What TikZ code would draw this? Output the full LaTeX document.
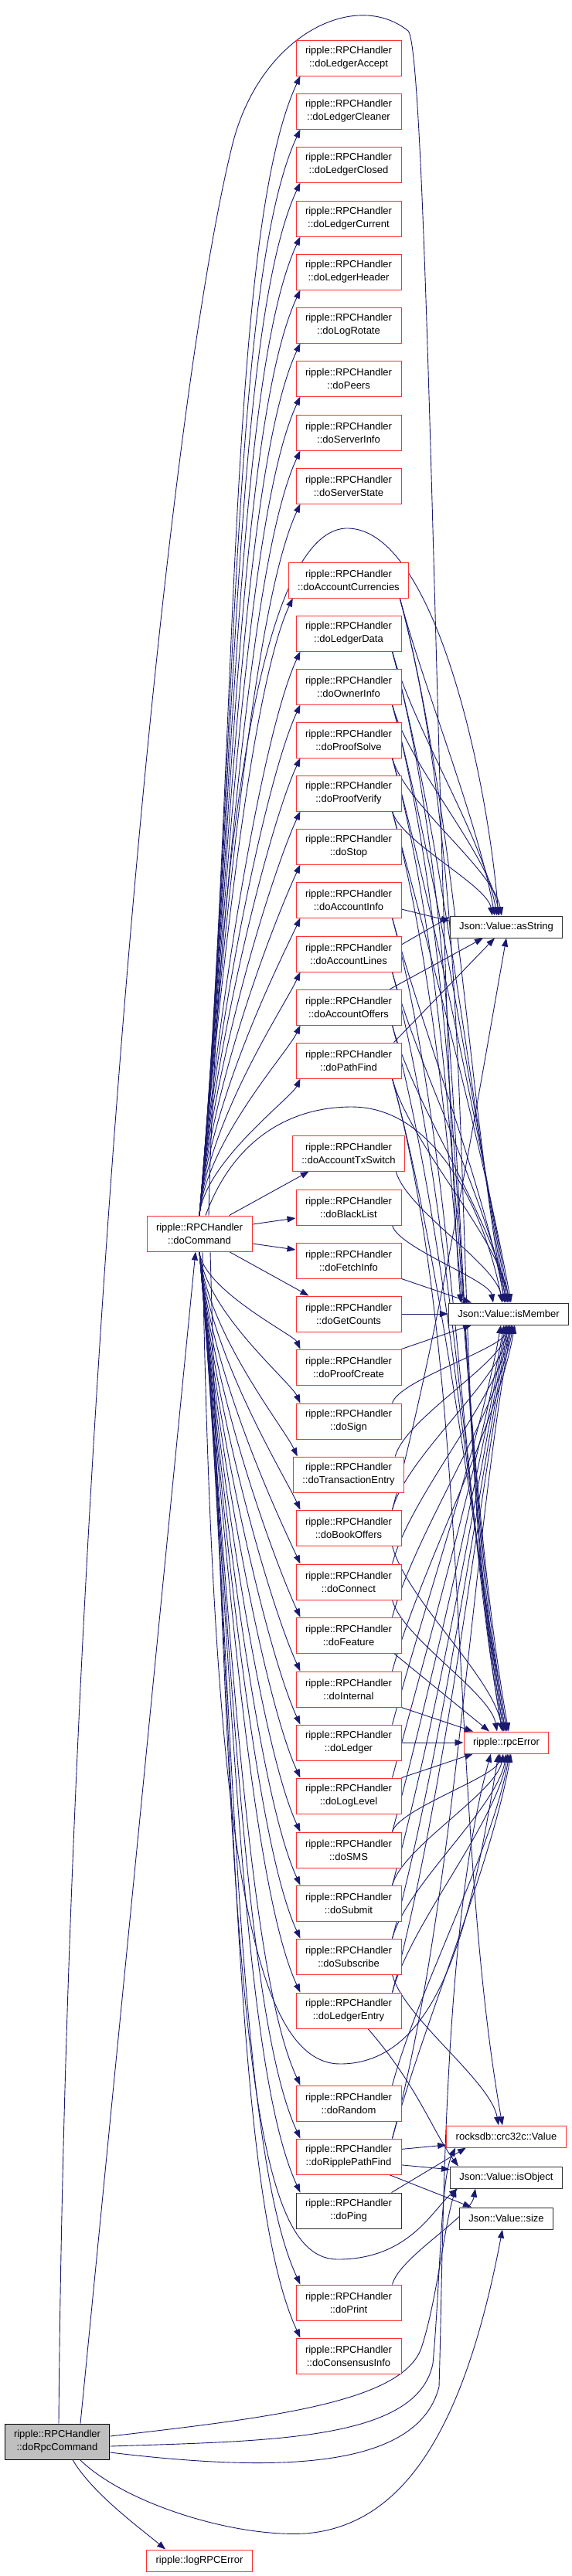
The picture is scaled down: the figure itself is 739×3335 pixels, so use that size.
\documentclass[tikz,border=0pt]{standalone}
\usepackage{fontspec}
\setmainfont{Liberation Sans}
\usetikzlibrary{arrows.meta,backgrounds,calc}
\definecolor{edgeblue}{RGB}{25,25,112}
\definecolor{fnred}{RGB}{255,48,48}
\definecolor{extgray}{RGB}{48,48,48}
\definecolor{rootgray}{RGB}{191,191,191}
\newcommand{\dotfont}{\fontsize{13}{17}\selectfont}
\tikzset{
  fn/.style={draw=fnred,line width=1pt,fill=white,inner xsep=12pt,inner ysep=2pt,minimum height=46pt,align=center,font=\dotfont},
  ext/.style={fn,draw=extgray,minimum height=28pt},
  rootfn/.style={fn,draw=black,fill=rootgray},
  call/.style={edgeblue,line width=0.9pt,-{Triangle[length=11pt,width=8pt]}}
}

\begin{document}
\begin{tikzpicture}[x=1pt,y=1pt]
  \useasboundingbox (0,0) rectangle (739,-3335);
  % callees of doCommand
  \foreach \f/\y in {LedgerAccept/75,LedgerCleaner/144,LedgerClosed/213,LedgerCurrent/283,LedgerHeader/352,LogRotate/421,Peers/490,ServerInfo/560,ServerState/629,AccountCurrencies/751,LedgerData/820,OwnerInfo/889,ProofSolve/958,ProofVerify/1027,Stop/1096,AccountInfo/1165,AccountLines/1235,AccountOffers/1304,PathFind/1373,AccountTxSwitch/1493,BlackList/1563,FetchInfo/1632,GetCounts/1701,ProofCreate/1770,Sign/1840,TransactionEntry/1909,BookOffers/1978,Connect/2048,Feature/2117,Internal/2187,Ledger/2256,LogLevel/2325,SMS/2395,Submit/2464,Subscribe/2533,LedgerEntry/2603,Random/2723,RipplePathFind/2792,Print/2981,ConsensusInfo/3050}{
    \node[fn] (\f) at (451,-\y) {ripple::RPCHandler\\::do\f};}
  \node[fn,draw=extgray] (Ping) at (451,-2862) {ripple::RPCHandler\\::doPing};
  \node[fn] (docmd) at (258,-1597) {ripple::RPCHandler\\::doCommand};
  \node[rootfn] (rpccmd) at (74,-3161) {ripple::RPCHandler\\::doRpcCommand};
  \node[fn,minimum height=28pt] (logerror) at (258,-3315) {ripple::logRPCError};
  % leaves
  \node[ext] (asstr) at (655,-1200) {Json::Value::asString};
  \node[ext] (ismember) at (658,-1701) {Json::Value::isMember};
  \node[fn,minimum height=28pt] (rpcerror) at (655,-2256) {ripple::rpcError};
  \node[fn,minimum height=28pt] (crcvalue) at (655,-2766) {rocksdb::crc32c::Value};
  \node[ext] (isobject) at (655,-2819) {Json::Value::isObject};
  \node[ext] (jsize) at (655,-2872) {Json::Value::size};

  \begin{scope}[on background layer]
    \foreach \f in {LedgerAccept,LedgerCleaner,LedgerClosed,LedgerCurrent,LedgerHeader,LogRotate,Peers,ServerInfo,ServerState,AccountCurrencies,LedgerData,OwnerInfo,ProofSolve,ProofVerify,Stop,AccountInfo,AccountLines,AccountOffers,PathFind}{
      \draw[call] let \p1=(docmd.north), \p2=([xshift=6pt]\f.south west), \n1={0.39*abs(\y1-\y2)} in
        (\p1) .. controls +(85:\n1) and +(245:0.4*\n1) .. (\p2);}
    \foreach \f in {ProofCreate,Sign,TransactionEntry,BookOffers,Connect,Feature,Internal,Ledger,LogLevel,SMS,Submit,Subscribe,LedgerEntry,Random,RipplePathFind,Ping,Print,ConsensusInfo}{
      \draw[call] let \p1=(docmd.south), \p2=([xshift=6pt]\f.north west), \n1={0.39*abs(\y1-\y2)} in
        (\p1) .. controls +(-85:\n1) and +(115:0.4*\n1) .. (\p2);}
    \draw[call] ([xshift=-30pt]docmd.north east) -- ([xshift=22pt]AccountTxSwitch.south west);
    \draw[call] ([yshift=12pt]docmd.east) -- ([yshift=-14pt]BlackList.west);
    \draw[call] ([yshift=-13pt]docmd.east) -- ([yshift=14pt]FetchInfo.west);
    \draw[call] ([xshift=-30pt]docmd.south east) -- ([xshift=17pt]GetCounts.north west);
    % doCommand to leaves
    \draw[call] ([xshift=12pt]docmd.north) .. controls (280,-1150) and (330,-690) .. (447,-684) .. controls (560,-680) and (630,-1000) .. ([xshift=-10pt]asstr.north);
    \draw[call] ([xshift=8pt]docmd.north) .. controls (300,-1480) and (370,-1433) .. (455,-1433) .. controls (560,-1433) and (625,-1560) .. ([xshift=-8pt]ismember.north);
    \draw[call] ([xshift=4pt]docmd.south) .. controls (275,-2350) and (320,-2672) .. (440,-2672) .. controls (580,-2672) and (615,-2450) .. ([xshift=-10pt]rpcerror.south);
    \draw[call] ([xshift=14pt]docmd.south) .. controls (300,-2650) and (330,-2925) .. (437,-2925) .. controls (530,-2925) and (560,-2860) .. ([xshift=10pt]isobject.south west);
    % doRpcCommand
    \draw[call] ([xshift=30pt]rpccmd.north) -- ([xshift=-5pt]docmd.south);
    \draw[call] ([xshift=20pt]rpccmd.south) .. controls +(-60:50) and +(140:40) .. ([xshift=25pt]logerror.north west);
    \draw[call] ([xshift=2pt]rpccmd.north) .. controls (85,-2000) and (200,-600) .. (300,-190) .. controls (335,-45) and (460,15) .. (528,-40) .. controls (555,-65) and (567,-1300) .. ([xshift=-62pt]ismember.north);
    \draw[call] ([yshift=7pt]rpccmd.east) .. controls (350,-3130) and (520,-3110) .. (545,-3040) .. controls (565,-2980) and (575,-2880) .. ([xshift=8pt]isobject.south west);
    \draw[call] ([yshift=-6pt]rpccmd.east) .. controls (350,-3160) and (540,-3160) .. (560,-3060) .. controls (570,-2950) and (570,-2820) .. ([xshift=12pt]crcvalue.south west);
    \draw[call] ([yshift=-14pt]rpccmd.east) .. controls (350,-3200) and (540,-3200) .. (568,-3090) .. controls (574,-2900) and (572,-2500) .. ([xshift=-20pt]rpcerror.south);
    \draw[call] ([xshift=-39pt]rpccmd.south east) .. controls (160,-3240) and (300,-3285) .. (395,-3280) .. controls (520,-3270) and (600,-3150) .. ([xshift=-5pt]jsize.south);
    % handlers to leaves
    \foreach \s/\t/\tx in {AccountCurrencies/asstr/-15,AccountCurrencies/ismember/-5,AccountCurrencies/rpcerror/-5,LedgerData/asstr/-12,LedgerData/ismember/-3,LedgerData/rpcerror/-3,OwnerInfo/asstr/-9,OwnerInfo/ismember/-1,OwnerInfo/rpcerror/-1,ProofSolve/asstr/-6,ProofSolve/ismember/1,ProofSolve/rpcerror/1,ProofVerify/asstr/-18,ProofVerify/ismember/3,ProofVerify/rpcerror/3,AccountInfo/ismember/-5,AccountInfo/rpcerror/-5,AccountLines/ismember/-3,AccountLines/rpcerror/-3,AccountOffers/ismember/-1,AccountOffers/rpcerror/-1,PathFind/ismember/1,PathFind/rpcerror/1,PathFind/crcvalue/-5,AccountTxSwitch/ismember/-8,BlackList/ismember/-20,BookOffers/rpcerror/-5,Connect/rpcerror/-12,Subscribe/crcvalue/-10}{
      \draw[call] let \p1=([xshift=-12pt]\s.south east), \p2=([xshift=\tx pt]\t.north), \n1={0.3*abs(\y1-\y2)} in
        (\p1) .. controls +(-75:\n1) and +(100:\n1) .. (\p2);}
    \foreach \s/\t/\tx in {Sign/ismember/-2,TransactionEntry/ismember/0,BookOffers/ismember/2,BookOffers/asstr/0,Connect/ismember/4,Feature/ismember/6,Internal/ismember/8,Ledger/ismember/-10,LogLevel/ismember/-6,SMS/ismember/-4,Submit/ismember/-2,Subscribe/ismember/0,LedgerEntry/ismember/2,RipplePathFind/ismember/4,SMS/rpcerror/-8,Submit/rpcerror/-4,Subscribe/rpcerror/0,LedgerEntry/rpcerror/2,Random/rpcerror/4,RipplePathFind/rpcerror/6,Print/isobject/-40}{
      \draw[call] let \p1=([xshift=-12pt]\s.north east), \p2=([xshift=\tx pt]\t.south), \n1={0.3*abs(\y1-\y2)} in
        (\p1) .. controls +(75:\n1) and +(-100:\n1) .. (\p2);}
    \foreach \s/\sa/\sx/\t/\ta/\tx in {AccountInfo/-10/0/asstr/174/0,AccountLines/10/0/asstr/170/0,AccountOffers/north east/-15/asstr/south/-30,PathFind/north east/-10/asstr/south/-15,GetCounts/east/0/ismember/west/0,FetchInfo/south east/0/ismember/north/-48,ProofCreate/north east/0/ismember/south/-48,Feature/south east/-10/rpcerror/north/-22,Internal/south east/0/rpcerror/north/-43,Ledger/east/0/rpcerror/west/0,LogLevel/north east/0/rpcerror/south/-43,RipplePathFind/8/0/crcvalue/188/0,RipplePathFind/-9/0/isobject/172/0,RipplePathFind/south east/-16/jsize/north/-45,Ping/north east/-13/crcvalue/south/-52}{
      \draw[call] ([xshift=\sx pt]\s.\sa) -- ([xshift=\tx pt]\t.\ta);}
    \draw[call] ([xshift=25pt]LedgerEntry.south) .. controls (540,-2700) and (560,-2760) .. ([xshift=-62pt]isobject.north);
  \end{scope}
\end{tikzpicture}
\end{document}
